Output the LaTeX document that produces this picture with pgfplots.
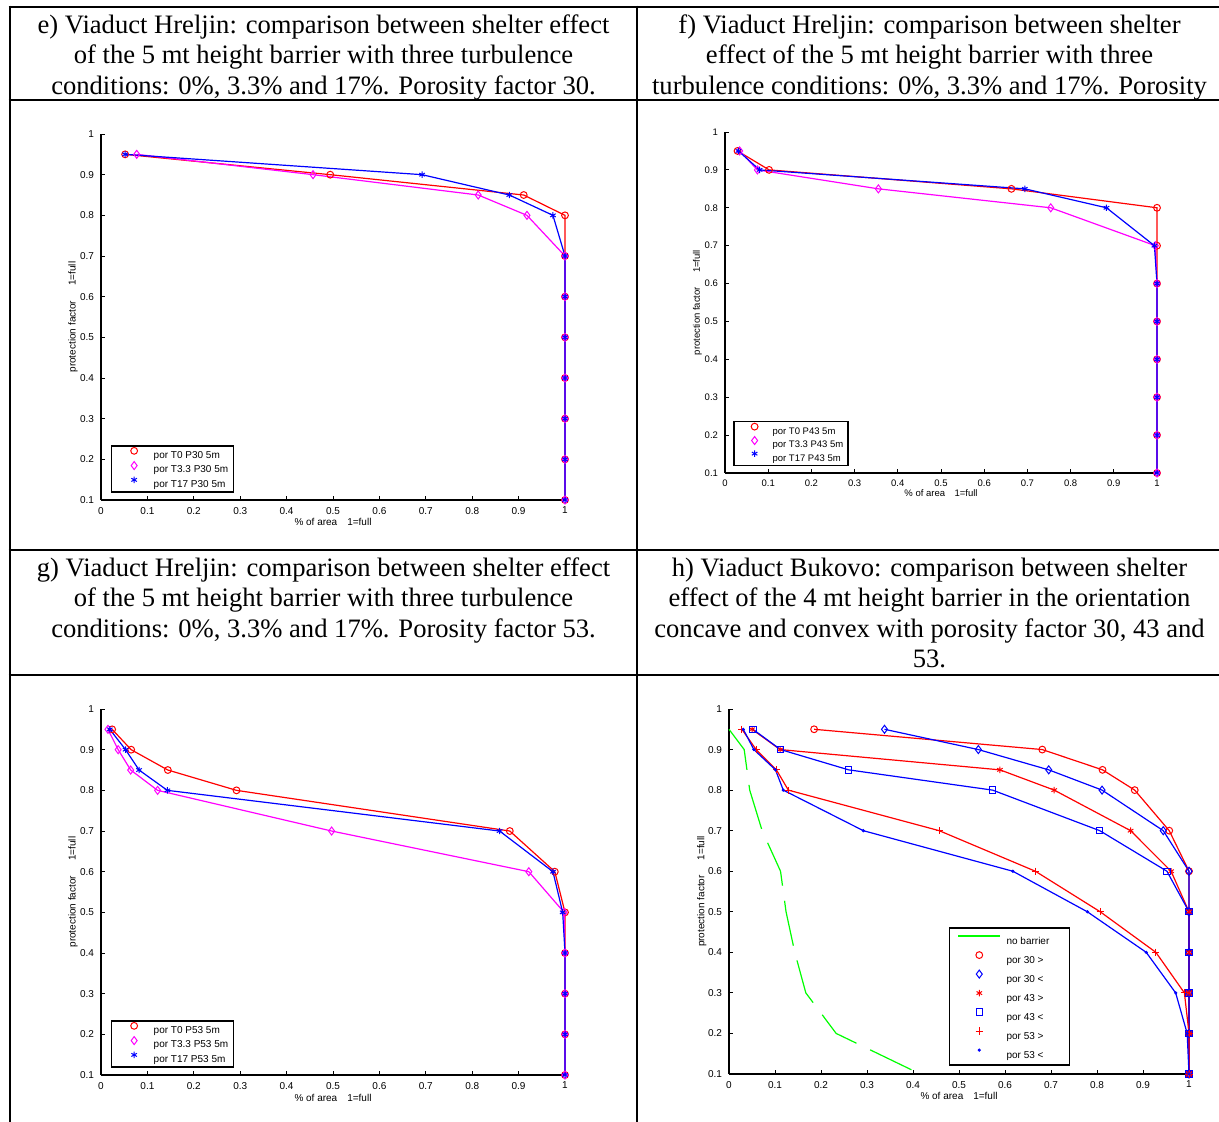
\documentclass[border=0pt]{standalone}
\usepackage{fontspec}
\setmainfont{Liberation Serif}
\setsansfont{Liberation Sans}
\usepackage{pgfplots}
\usepackage{pgfplotstable}
\pgfplotsset{compat=1.18}

\definecolor{mred}{rgb}{1,0,0}
\definecolor{mmag}{rgb}{1,0,1}
\definecolor{mblue}{rgb}{0,0,1}
\definecolor{mgreen}{rgb}{0,1,0}

\newcommand{\titlefont}{\fontsize{13.3}{15.2}\selectfont}

\pgfplotsset{
  mlab/.style={
    scale only axis, clip=false,
    xmin=0, xmax=1, ymin=0.1, ymax=1,
    axis lines*=left,
    axis line style={black, line width=0.6pt},
    tick align=inside,
    major tick length=2pt,
    every tick/.style={black, line width=0.5pt},
    xtick={0,0.1,0.2,0.3,0.4,0.5,0.6,0.7,0.8,0.9,1},
    ytick={0.1,0.2,0.3,0.4,0.5,0.6,0.7,0.8,0.9,1},
    /pgf/number format/assume math mode=true,
    ticklabel style={font=\sffamily\fontsize{#1}{#1}\selectfont},
    label style={font=\sffamily\fontsize{#1}{#1}\selectfont},
    legend cell align=left,
  },
  pr/.style={mred, line width=0.6pt, mark=o, mark size=1.7pt, mark options={solid, line width=0.5pt, draw=mred}},
  pm/.style={mmag, line width=0.6pt, mark=diamond, mark size=2pt, mark options={solid, line width=0.5pt, draw=mmag}},
  pb/.style={mblue, line width=0.6pt, mark=asterisk, mark size=1.6pt, mark options={solid, line width=0.5pt, draw=mblue}},
  pbd/.style={mblue, line width=0.6pt, mark=diamond, mark size=2pt, mark options={solid, line width=0.5pt, draw=mblue}},
  prs/.style={mred, line width=0.6pt, mark=asterisk, mark size=1.6pt, mark options={solid, line width=0.5pt, draw=mred}},
  pbs/.style={mblue, line width=0.6pt, mark=square, mark size=1.6pt, mark options={solid, line width=0.5pt, draw=mblue}},
  prp/.style={mred, line width=0.6pt, mark=+, mark size=1.8pt, mark options={solid, line width=0.5pt, draw=mred},
    legend image code/.code={\path (-10.5pt,0pt) (13.35pt,0pt);
      \draw[draw=mred, color=mred, line width=0.5pt, mark=+, mark size=1.8pt, mark options={draw=mred}] plot coordinates {(0pt,1.8pt)};}},
  pbp/.style={mblue, line width=0.6pt, mark=*, mark size=0.6pt, mark options={solid, line width=0.4pt, draw=mblue, fill=mblue}},
  pg/.style={mgreen, line width=0.6pt, dash pattern=on 22.9pt off 7.6pt,
    legend image code/.code={\path (-10.5pt,0pt) (13.35pt,0pt); \draw[##1, draw=mgreen] (-10.5pt,1.8pt) -- (10.5pt,1.8pt);}},
  legE/.style={
    legend image code/.code={\path (-8.4pt,0pt) (9.5pt,0pt); \draw[##1] plot coordinates {(0pt,1.8pt)};},
    legend style={at={(0.021,0.020)}, anchor=south west, draw=black, line width=0.8pt, fill=white,
      inner xsep=2.6pt, inner ysep=0.625pt, row sep=0pt, column sep=0pt,
      nodes={inner sep=0pt, text height=5.375pt, text depth=1.775pt, font=\sffamily\fontsize{5}{6}\selectfont}},
  },
  legF/.style={
    legend image code/.code={\path (-7.8pt,0pt) (8.7pt,0pt); \draw[##1] plot coordinates {(0pt,1.7pt)};},
    legend style={at={(0.019,0.020)}, anchor=south west, draw=black, line width=0.8pt, fill=white,
      inner xsep=2.2pt, inner ysep=0.925pt, row sep=0pt, column sep=0pt,
      nodes={inner sep=0pt, text height=5.275pt, text depth=1.225pt, font=\sffamily\fontsize{4.75}{5.7}\selectfont}},
  },
  legH/.style={
    legend image code/.code={\path (-10.5pt,0pt) (13.35pt,0pt); \draw[##1] plot coordinates {(0pt,1.8pt)};},
    legend style={at={(0.478,0.022)}, anchor=south west, draw=black, line width=0.8pt, fill=white,
      inner xsep=4pt, inner ysep=1.0pt, row sep=0pt, column sep=0pt,
      nodes={inner sep=0pt, text height=7.15pt, text depth=2.35pt, font=\sffamily\fontsize{5}{6}\selectfont}},
  },
}

% ---------- panel e: P30 ----------
\pgfplotstableread{
x y
0.052 0.95
0.494 0.90
0.911 0.85
1.000 0.80
1 0.7
1 0.6
1 0.5
1 0.4
1 0.3
1 0.2
1 0.1
}\eA
\pgfplotstableread{
x y
0.077 0.95
0.457 0.90
0.813 0.85
0.918 0.80
1 0.7
1 0.6
1 0.5
1 0.4
1 0.3
1 0.2
1 0.1
}\eB
\pgfplotstableread{
x y
0.052 0.95
0.692 0.90
0.880 0.85
0.974 0.80
1 0.7
1 0.6
1 0.5
1 0.4
1 0.3
1 0.2
1 0.1
}\eC
% ---------- panel f: P43 ----------
\pgfplotstableread{
x y
0.029 0.95
0.102 0.90
0.663 0.85
1.000 0.80
1 0.7
1 0.6
1 0.5
1 0.4
1 0.3
1 0.2
1 0.1
}\fA
\pgfplotstableread{
x y
0.034 0.95
0.075 0.90
0.355 0.85
0.754 0.80
0.996 0.70
1 0.6
1 0.5
1 0.4
1 0.3
1 0.2
1 0.1
}\fB
\pgfplotstableread{
x y
0.031 0.95
0.080 0.90
0.694 0.85
0.883 0.80
0.994 0.70
1 0.6
1 0.5
1 0.4
1 0.3
1 0.2
1 0.1
}\fC
% ---------- panel g: P53 ----------
\pgfplotstableread{
x y
0.024 0.95
0.065 0.90
0.144 0.85
0.292 0.80
0.881 0.70
0.978 0.60
1 0.5
1 0.4
1 0.3
1 0.2
1 0.1
}\gA
\pgfplotstableread{
x y
0.015 0.95
0.037 0.90
0.064 0.85
0.122 0.80
0.497 0.70
0.922 0.60
0.998 0.50
1 0.4
1 0.3
1 0.2
1 0.1
}\gB
\pgfplotstableread{
x y
0.019 0.95
0.053 0.90
0.082 0.85
0.143 0.80
0.859 0.70
0.974 0.60
0.995 0.50
1 0.4
1 0.3
1 0.2
1 0.1
}\gC
% ---------- panel h: Bukovo ----------
\pgfplotstableread{
x y
0.000 0.95
0.033 0.90
0.045 0.80
0.072 0.70
0.112 0.60
0.124 0.50
0.143 0.40
0.167 0.30
0.233 0.20
0.401 0.108
}\hG
\pgfplotstableread{
x y
0.185 0.95
0.681 0.90
0.812 0.85
0.882 0.80
0.957 0.70
1 0.6
1 0.5
1 0.4
1 0.3
1 0.2
1 0.1
}\hA
\pgfplotstableread{
x y
0.338 0.95
0.542 0.90
0.695 0.85
0.811 0.80
0.944 0.70
1 0.6
1 0.5
1 0.4
1 0.3
1 0.2
1 0.1
}\hB
\pgfplotstableread{
x y
0.050 0.95
0.111 0.90
0.589 0.85
0.707 0.80
0.873 0.70
0.961 0.60
1 0.5
1 0.4
1 0.3
1 0.2
1 0.1
}\hC
\pgfplotstableread{
x y
0.052 0.95
0.112 0.90
0.260 0.85
0.573 0.80
0.806 0.70
0.952 0.60
1 0.5
1 0.4
1 0.3
1 0.2
1 0.1
}\hD
\pgfplotstableread{
x y
0.028 0.95
0.059 0.90
0.103 0.85
0.129 0.80
0.457 0.70
0.666 0.60
0.807 0.50
0.928 0.40
0.990 0.30
1 0.2
1 0.1
}\hE
\pgfplotstableread{
x y
0.031 0.95
0.054 0.90
0.101 0.85
0.118 0.80
0.292 0.70
0.617 0.60
0.779 0.50
0.907 0.40
0.971 0.30
0.996 0.20
1 0.10
}\hF

\begin{document}
\begin{tikzpicture}
\useasboundingbox (0pt,0pt) rectangle (609.5pt,-561pt);
% table grid
\draw[line width=1pt] (4.25pt,-3.3pt) -- (609.5pt,-3.3pt);
\draw[line width=1pt] (4.25pt,-50pt) -- (609.5pt,-50pt);
\draw[line width=1pt] (4.25pt,-275pt) -- (609.5pt,-275pt);
\draw[line width=1pt] (4.25pt,-337.5pt) -- (609.5pt,-337.5pt);
\draw[line width=1pt] (4.75pt,-2.8pt) -- (4.75pt,-561pt);
\draw[line width=1pt] (318.5pt,-2.8pt) -- (318.5pt,-561pt);
% titles
\begin{scope}[every node/.style={anchor=base, font=\titlefont, inner sep=0pt}]
\node at (161.75pt,-16.65pt) {e) Viaduct Hreljin: comparison between shelter effect};
\node at (161.75pt,-31.85pt) {of the 5 mt height barrier with three turbulence};
\node at (161.75pt,-47.05pt) {conditions: 0\%, 3.3\% and 17\%. Porosity factor 30.};
\node at (464.75pt,-16.65pt) {f) Viaduct Hreljin: comparison between shelter};
\node at (464.75pt,-31.85pt) {effect of the 5 mt height barrier with three};
\node at (464.75pt,-47.05pt) {turbulence conditions: 0\%, 3.3\% and 17\%. Porosity};
\node at (161.75pt,-288.25pt) {g) Viaduct Hreljin: comparison between shelter effect};
\node at (161.75pt,-303.45pt) {of the 5 mt height barrier with three turbulence};
\node at (161.75pt,-318.65pt) {conditions: 0\%, 3.3\% and 17\%. Porosity factor 53.};
\node at (464.75pt,-288.25pt) {h) Viaduct Bukovo: comparison between shelter};
\node at (464.75pt,-303.45pt) {effect of the 4 mt height barrier in the orientation};
\node at (464.75pt,-318.65pt) {concave and convex with porosity factor 30, 43 and};
\node at (464.75pt,-333.85pt) {53.};
\end{scope}

% ---------- e ----------
\begin{axis}[mlab=5, legE, at={(50.5pt,-250pt)}, anchor=south west, width=232pt, height=183pt,
  xlabel={\% of area\hspace*{5pt}1=full}, ylabel={protection factor\hspace*{7.5pt}1=full},
  xlabel style={at={(axis description cs:0.5,-0.060)}, anchor=center},
  ylabel style={at={(axis description cs:-0.0603,0.5)}, anchor=center}]
\addplot[pr] table {\eA}; \addlegendentry{por T0 P30 5m}
\addplot[pm] table {\eB}; \addlegendentry{por T3.3 P30 5m}
\addplot[pb] table {\eC}; \addlegendentry{por T17 P30 5m}
\end{axis}

% ---------- f ----------
\begin{axis}[mlab=4.75, legF, at={(362.5pt,-236.5pt)}, anchor=south west, width=216pt, height=170.5pt,
  xlabel={\% of area\hspace*{4.75pt}1=full}, ylabel={protection factor\hspace*{7pt}1=full},
  xlabel style={at={(axis description cs:0.5,-0.0595)}, anchor=center},
  ylabel style={at={(axis description cs:-0.064,0.5)}, anchor=center}]
\addplot[pr] table {\fA}; \addlegendentry{por T0 P43 5m}
\addplot[pm] table {\fB}; \addlegendentry{por T3.3 P43 5m}
\addplot[pb] table {\fC}; \addlegendentry{por T17 P43 5m}
\end{axis}

% ---------- g ----------
\begin{axis}[mlab=5, legE, at={(50.5pt,-537.5pt)}, anchor=south west, width=232pt, height=183pt,
  xlabel={\% of area\hspace*{5pt}1=full}, ylabel={protection factor\hspace*{7.5pt}1=full},
  xlabel style={at={(axis description cs:0.5,-0.063)}, anchor=center},
  ylabel style={at={(axis description cs:-0.0603,0.5)}, anchor=center}]
\addplot[pr] table {\gA}; \addlegendentry{por T0 P53 5m}
\addplot[pm] table {\gB}; \addlegendentry{por T3.3 P53 5m}
\addplot[pb] table {\gC}; \addlegendentry{por T17 P53 5m}
\end{axis}

% ---------- h ----------
\begin{axis}[mlab=5, legH, at={(364.5pt,-537pt)}, anchor=south west, width=230pt, height=182.5pt,
  xlabel={\% of area\hspace*{5pt}1=full}, ylabel={protection factor\hspace*{7.5pt}1=full},
  xlabel style={at={(axis description cs:0.5,-0.060)}, anchor=center},
  ylabel style={at={(axis description cs:-0.059,0.5)}, anchor=center}]
\addplot[pg]  table {\hG}; \addlegendentry{no barrier\hspace*{6pt}}
\addplot[pr]  table {\hA}; \addlegendentry{por 30 >}
\addplot[pbd] table {\hB}; \addlegendentry{por 30 <}
\addplot[prs] table {\hC}; \addlegendentry{por 43 >}
\addplot[pbs] table {\hD}; \addlegendentry{por 43 <}
\addplot[prp] table {\hE}; \addlegendentry{por 53 >}
\addplot[pbp] table {\hF}; \addlegendentry{por 53 <}
\end{axis}
\end{tikzpicture}
\end{document}
